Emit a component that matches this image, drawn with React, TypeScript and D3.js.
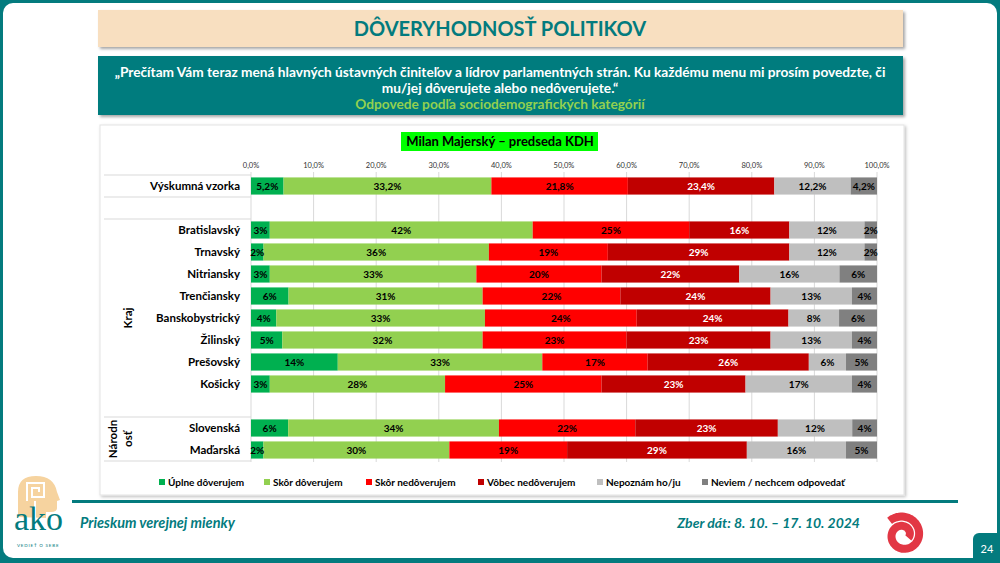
import React from 'react';
import * as d3 from 'd3';

const rowKeys = ['Výskumná vzorka', 'gap1', 'Bratislavský', 'Trnavský', 'Nitriansky', 'Trenčiansky', 'Banskobystrický', 'Žilinský', 'Prešovský', 'Košický', 'gap2', 'Slovenská', 'Maďarská'];
const dataRows = ['Výskumná vzorka', 'Bratislavský', 'Trnavský', 'Nitriansky', 'Trenčiansky', 'Banskobystrický', 'Žilinský', 'Prešovský', 'Košický', 'Slovenská', 'Maďarská'];

const seriesNames = ['Úplne dôverujem', 'Skôr dôverujem', 'Skôr nedôverujem', 'Vôbec nedôverujem', 'Nepoznám ho/ju', 'Neviem / nechcem odpovedať'];
const seriesColors = ['#00b050', '#92d050', '#ff0000', '#c00000', '#bfbfbf', '#808080'];
const labelColors = ['#000', '#000', '#000', '#fff', '#000', '#000'];

const uplneDoverujem = [5.2, 3, 2, 3, 6, 4, 5, 14, 3, 6, 2];
const skorDoverujem = [33.2, 42, 36, 33, 31, 33, 32, 33, 28, 34, 30];
const skorNedoverujem = [21.8, 25, 19, 20, 22, 24, 23, 17, 25, 22, 19];
const vobecNedoverujem = [23.4, 16, 29, 22, 24, 24, 23, 26, 23, 23, 29];
const nepoznam = [12.2, 12, 12, 16, 13, 8, 13, 6, 17, 12, 16];
const neviem = [4.2, 2, 2, 6, 4, 6, 4, 5, 4, 4, 5];
const seriesValues = [uplneDoverujem, skorDoverujem, skorNedoverujem, vobecNedoverujem, nepoznam, neviem];

const tickValues = [0, 10, 20, 30, 40, 50, 60, 70, 80, 90, 100];

const groups = [
  { lines: ['Kraj'], from: 'Bratislavský', to: 'gap2' },
  { lines: ['Národn', 'osť'], from: 'Slovenská', to: 'Maďarská' },
];

const TEAL = '#037b7e';
const FONT = 'Lato, "Open Sans", sans-serif';
const legendX = [159, 264, 366, 478, 597, 702];

export default function App() {
  const x = d3.scaleLinear().domain([0, 100]).range([251, 877]);
  const y = d3.scaleBand().domain(rowKeys).range([175, 461]).paddingInner(0.22).paddingOuter(0.11);
  const step = y.step();
  const bw = y.bandwidth();

  const fmt = (v: number, ri: number) => (ri === 0 ? d3.format('.1f')(v).replace('.', ',') : d3.format('.0f')(v)) + '%';

  const bars: React.ReactNode[] = [];
  const labels: React.ReactNode[] = [];
  dataRows.forEach((row, ri) => {
    const vals = seriesValues.map((s) => s[ri]);
    const total = d3.sum(vals);
    let cum = 0;
    vals.forEach((v, si) => {
      const x0 = x((cum / total) * 100);
      cum += v;
      const x1 = x((cum / total) * 100);
      const yy = y(row)!;
      bars.push(<rect key={`b${ri}-${si}`} x={x0} y={yy} width={x1 - x0} height={bw} fill={seriesColors[si]} />);
      labels.push(
        <text key={`l${ri}-${si}`} x={(x0 + x1) / 2} y={yy + bw / 2} dy="0.35em" textAnchor="middle" fontSize={10} fontWeight={700} fill={labelColors[si]} fontFamily={FONT}>
          {fmt(v, ri)}
        </text>
      );
    });
  });

  // spiral logo
  const spiralPts = d3.range(0, 1.0001, 0.01).map((t) => {
    const ang = -0.5 + t * 2 * Math.PI * 1.45;
    const r = 6 + 13.5 * t;
    return [903 + r * Math.cos(-ang), 535 + r * Math.sin(-ang)] as [number, number];
  });
  const spiral = d3.line().curve(d3.curveCatmullRom)(spiralPts.reverse());

  const yTop = (k: string) => y(k)! - y.paddingInner() * step / 2;
  const yBot = (k: string) => y(k)! + bw + y.paddingInner() * step / 2;
  const lineYs = [yTop('Výskumná vzorka'), yBot('Výskumná vzorka'), yTop('Bratislavský'), yTop('Slovenská'), yBot('Maďarská')];

  return (
    <div style={{ position: 'absolute', left: 0, top: 0 }}>
      <svg width={1000} height={563} style={{ display: 'block' }} fontFamily={FONT}>
        <defs>
          <filter id="sh" x="-5%" y="-5%" width="110%" height="120%">
            <feDropShadow dx="2" dy="2" stdDeviation="1.5" floodColor="#000" floodOpacity="0.35" />
          </filter>
          <filter id="sh2" x="-5%" y="-5%" width="110%" height="120%">
            <feDropShadow dx="1.5" dy="1.5" stdDeviation="1.5" floodColor="#000" floodOpacity="0.25" />
          </filter>
        </defs>
        <rect x={0} y={0} width={1000} height={563} fill={TEAL} />
        <rect x={3} y={3} width={994} height={555} rx={10} fill="#fff" />

        {/* title */}
        <rect x={98} y={10} width={805} height={37} fill="#f8dfc0" filter="url(#sh)" />
        <text x={500} y={29} dy="0.35em" textAnchor="middle" fontSize={20} fontWeight={700} fill={TEAL}>DÔVERYHODNOSŤ POLITIKOV</text>

        {/* question */}
        <rect x={98} y={56} width={805} height={59} fill={TEAL} filter="url(#sh)" />
        <text x={500} y={72} dy="0.35em" textAnchor="middle" fontSize={13.7} fontWeight={700} fill="#fff">„Prečítam Vám teraz mená hlavných ústavných činiteľov a lídrov parlamentných strán. Ku každému menu mi prosím povedzte, či</text>
        <text x={500} y={88} dy="0.35em" textAnchor="middle" fontSize={13.7} fontWeight={700} fill="#fff">mu/jej dôverujete alebo nedôverujete.“</text>
        <text x={500} y={104} dy="0.35em" textAnchor="middle" fontSize={13.7} fontWeight={700} fill="#92d050">Odpovede podľa sociodemografických kategórií</text>

        {/* chart panel */}
        <rect x={100} y={125} width={804} height={370} fill="#fff" stroke="#e3e3e3" filter="url(#sh2)" />
        <rect x={401} y={132} width={197} height={19} fill="#00ff00" />
        <text x={500} y={141.5} dy="0.35em" textAnchor="middle" fontSize={13} fontWeight={700} fill="#000">Milan Majerský – predseda KDH</text>

        {/* gridlines */}
        {tickValues.map((t) => (
          <line key={`g${t}`} x1={x(t)} x2={x(t)} y1={172} y2={462} stroke="#d9d9d9" strokeWidth={1} />
        ))}
        {tickValues.map((t) => (
          <text key={`t${t}`} x={x(t)} y={165} dy="0.35em" textAnchor="middle" fontSize={7.5} fill="#333">{d3.format('.1f')(t).replace('.', ',') + '%'}</text>
        ))}
        {lineYs.map((ly, i) => (
          <line key={`h${i}`} x1={104} x2={x(0)} y1={ly} y2={ly} stroke="#d9d9d9" strokeWidth={1} />
        ))}

        {bars}
        {labels}

        {/* row labels */}
        {dataRows.map((r) => (
          <text key={`r${r}`} x={240} y={y(r)! + bw / 2} dy="0.35em" textAnchor="end" fontSize={11.5} fontWeight={700} fill="#000">{r}</text>
        ))}
        {groups.map((g) => {
          const cy = (yTop(g.from) + yBot(g.to)) / 2;
          return g.lines.map((ln, i) => {
            const cx = g.lines.length === 1 ? 128 : 113 + i * 15;
            return (
              <text key={`${g.from}${i}`} transform={`translate(${cx},${cy}) rotate(-90)`} textAnchor="middle" dy="0.35em" fontSize={11.5} fontWeight={700} fill="#000">{ln}</text>
            );
          });
        })}

        {/* legend */}
        {seriesNames.map((n, i) => (
          <g key={`lg${i}`} transform={`translate(${legendX[i]},482)`}>
            <rect x={0} y={-3} width={6} height={6} fill={seriesColors[i]} />
            <text x={9} y={0} dy="0.35em" fontSize={10} fontWeight={700} fill="#000">{n}</text>
          </g>
        ))}

        {/* footer */}
        <rect x={72} y={500} width={886} height={3} fill={TEAL} />
        <text x={80} y={523} dy="0.35em" fontSize={14.5} fontWeight={700} fontStyle="italic" fill={TEAL}>Prieskum verejnej mienky</text>
        <text x={860} y={523} dy="0.35em" textAnchor="end" fontSize={14} fontWeight={700} fontStyle="italic" fill={TEAL}>Zber dát: 8. 10. – 17. 10. 2024</text>
        <path d={spiral || ''} fill="none" stroke="#e23744" strokeWidth={8} strokeLinecap="butt" />

        {/* ako logo */}
        <path d="M18,517 L18,492 Q18,476 36,476 Q54,476 57,492 L60,500 L57,501 L57,508 Q57,512 51,512 L46,512 L46,518 Z" fill="#f6d39f" />
        <path d="M27,501 L27,483 L44,483 L44,497 L32,497 L32,488 L39,488 L39,492" fill="none" stroke="#fff" strokeWidth={2} />
        <path d="M35,501 L35,518" stroke="#fff" strokeWidth={2} />
        <text x={14} y={530} fontSize={34} fontFamily="'Liberation Serif', serif" fill={TEAL}>ako</text>
        <text x={17} y={547} fontSize={4.5} fill={TEAL} letterSpacing={0.8}>VEDIEŤ O SEBE</text>

        {/* page number */}
        <rect x={973} y={533} width={40} height={40} rx={6} fill={TEAL} />
        <text x={987} y={549} dy="0.35em" textAnchor="middle" fontSize={11} fill="#fff">24</text>
      </svg>
    </div>
  );
}
